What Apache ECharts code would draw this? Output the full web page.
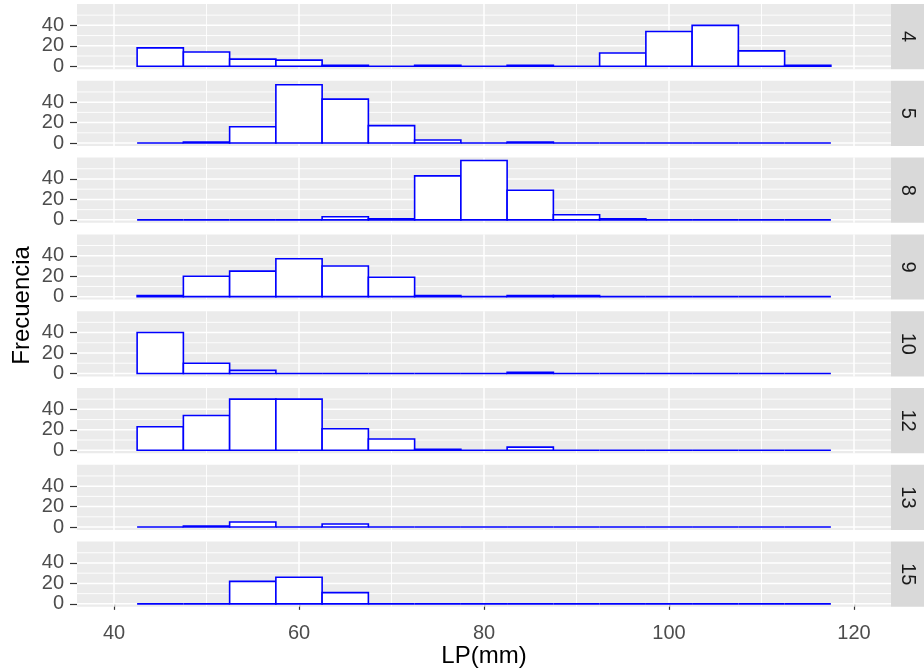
<!DOCTYPE html>
<html>
<head>
<meta charset="utf-8">
<script src="https://cdn.jsdelivr.net/npm/echarts@6/dist/echarts.min.js"></script>
<style>
  html, body { margin: 0; padding: 0; background: #fff; }
  #chart { width: 924px; height: 672px; }
</style>
</head>
<body>
<div id="chart"></div>
<script>
// Histogram bin edges (width 5 mm)
const binEdges = [42.5, 47.5, 52.5, 57.5, 62.5, 67.5, 72.5, 77.5, 82.5, 87.5, 92.5, 97.5, 102.5, 107.5, 112.5, 117.5];

// Facet labels (one row per group)
const panelLabels = ['4', '5', '8', '9', '10', '12', '13', '15'];

// Counts per bin for each facet
const counts4  = [18, 14, 7, 6, 1, 0, 1, 0, 1, 0, 13, 34, 40, 15, 1];
const counts5  = [0, 1, 16, 57, 43, 17, 3, 0, 1, 0, 0, 0, 0, 0, 0];
const counts8  = [0, 0, 0, 0, 3, 1, 43, 58, 29, 5, 1, 0, 0, 0, 0];
const counts9  = [1, 20, 25, 37, 30, 19, 1, 0, 1, 1, 0, 0, 0, 0, 0];
const counts10 = [40, 10, 3, 0, 0, 0, 0, 0, 1, 0, 0, 0, 0, 0, 0];
const counts12 = [23, 34, 50, 50, 21, 11, 1, 0, 3, 0, 0, 0, 0, 0, 0];
const counts13 = [0, 1, 5, 0, 3, 0, 0, 0, 0, 0, 0, 0, 0, 0, 0];
const counts15 = [0, 0, 22, 26, 11, 0, 0, 0, 0, 0, 0, 0, 0, 0, 0];

const panelCounts = [counts4, counts5, counts8, counts9, counts10, counts12, counts13, counts15];

// Axis ticks and guide lines
const xTicks = [40, 60, 80, 100, 120];
const xMinorGrid = [50, 70, 90, 110];
const yTicks = [0, 20, 40];
const yMinorGrid = [10, 30, 50];
const xTitle = 'LP(mm)';
const yTitle = 'Frecuencia';

// ---- layout ----
const W = 924;
const LEFT = 77;
const STRIP_W = 33;
const RIGHT = STRIP_W;
const TOP0 = 4;
const STEP = 76.8;
const PANEL_H = 65.2;
const X_MIN = 36, X_MAX = 124;
const Y_MIN = -2.9, Y_MAX = 60.9;
const FONT = 'Liberation Sans, Arial, sans-serif';

const chart = echarts.init(document.getElementById('chart'), null, { renderer: 'canvas' });

const grids = [], xAxes = [], yAxes = [], series = [], graphics = [];
const last = panelLabels.length - 1;

// guide-line specs: [value, orientation(0 = vertical, 1 = horizontal), major(1)/minor(0)]
const guideData = [];
xTicks.forEach(v => guideData.push([v, 0, 1]));
xMinorGrid.forEach(v => guideData.push([v, 0, 0]));
yTicks.forEach(v => guideData.push([v, 1, 1]));
yMinorGrid.forEach(v => guideData.push([v, 1, 0]));

panelLabels.forEach((label, i) => {
  const top = TOP0 + i * STEP;
  grids.push({
    left: LEFT, right: RIGHT, top: top, height: PANEL_H,
    show: true, backgroundColor: '#EBEBEB', borderWidth: 0
  });
  xAxes.push({
    type: 'value', gridIndex: i, min: X_MIN, max: X_MAX,
    axisLine: { show: false },
    splitLine: { show: false },
    axisTick: { show: i === last, customValues: xTicks, length: 6, lineStyle: { color: '#333333', width: 1.2 } },
    axisLabel: { show: i === last, customValues: xTicks, margin: 17, color: '#4D4D4D', fontSize: 20, fontFamily: FONT },
    name: i === last ? xTitle : '',
    nameLocation: 'middle', nameGap: 37,
    nameTextStyle: { color: '#000', fontSize: 24, fontFamily: FONT }
  });
  yAxes.push({
    type: 'value', gridIndex: i, min: Y_MIN, max: Y_MAX,
    axisLine: { show: false },
    splitLine: { show: false },
    axisTick: { show: true, customValues: yTicks, length: 7, lineStyle: { color: '#333333', width: 1.2 } },
    axisLabel: { show: true, customValues: yTicks, margin: 13, color: '#4D4D4D', fontSize: 20, fontFamily: FONT }
  });

  // panel guide lines
  series.push({
    type: 'custom', xAxisIndex: i, yAxisIndex: i, silent: true, z: 1,
    animation: false,
    data: guideData,
    renderItem: function (params, api) {
      const cs = params.coordSys;
      const v = api.value(0), dir = api.value(1), major = api.value(2);
      const w = major ? 1.5 : 0.9;
      if (dir === 0) {
        const x = api.coord([v, 0])[0];
        return { type: 'line', shape: { x1: x, y1: cs.y, x2: x, y2: cs.y + cs.height }, style: { stroke: '#FFFFFF', lineWidth: w } };
      }
      const y = api.coord([X_MIN, v])[1];
      return { type: 'line', shape: { x1: cs.x, y1: y, x2: cs.x + cs.width, y2: y }, style: { stroke: '#FFFFFF', lineWidth: w } };
    }
  });

  // histogram bars
  const counts = panelCounts[i];
  const bars = counts.map((c, k) => [binEdges[k], binEdges[k + 1], c]);
  series.push({
    type: 'custom', xAxisIndex: i, yAxisIndex: i, z: 2,
    animation: false,
    encode: { x: [0, 1], y: 2 },
    data: bars,
    renderItem: function (params, api) {
      const a = api.coord([api.value(0), api.value(2)]);
      const b = api.coord([api.value(1), 0]);
      return {
        type: 'rect',
        shape: { x: a[0], y: a[1], width: b[0] - a[0], height: b[1] - a[1] },
        style: { fill: '#FFFFFF', stroke: '#0000FF', lineWidth: 1.6 }
      };
    }
  });

  // facet strip
  graphics.push({
    type: 'rect', silent: true,
    shape: { x: W - STRIP_W, y: top, width: STRIP_W, height: PANEL_H },
    style: { fill: '#D9D9D9' }
  });
  graphics.push({
    type: 'text', silent: true,
    x: W - STRIP_W / 2, y: top + PANEL_H / 2,
    rotation: -Math.PI / 2,
    style: { text: label, fill: '#1A1A1A', font: '20px ' + FONT, align: 'center', verticalAlign: 'middle' }
  });
});

// y-axis title
graphics.push({
  type: 'text', silent: true,
  x: 22, y: TOP0 + (last * STEP + PANEL_H) / 2,
  rotation: Math.PI / 2,
  style: { text: yTitle, fill: '#000', font: '24px ' + FONT, align: 'center', verticalAlign: 'middle' }
});

chart.setOption({
  animation: false,
  backgroundColor: '#FFFFFF',
  grid: grids,
  xAxis: xAxes,
  yAxis: yAxes,
  series: series,
  graphic: graphics
});
</script>
</body>
</html>
